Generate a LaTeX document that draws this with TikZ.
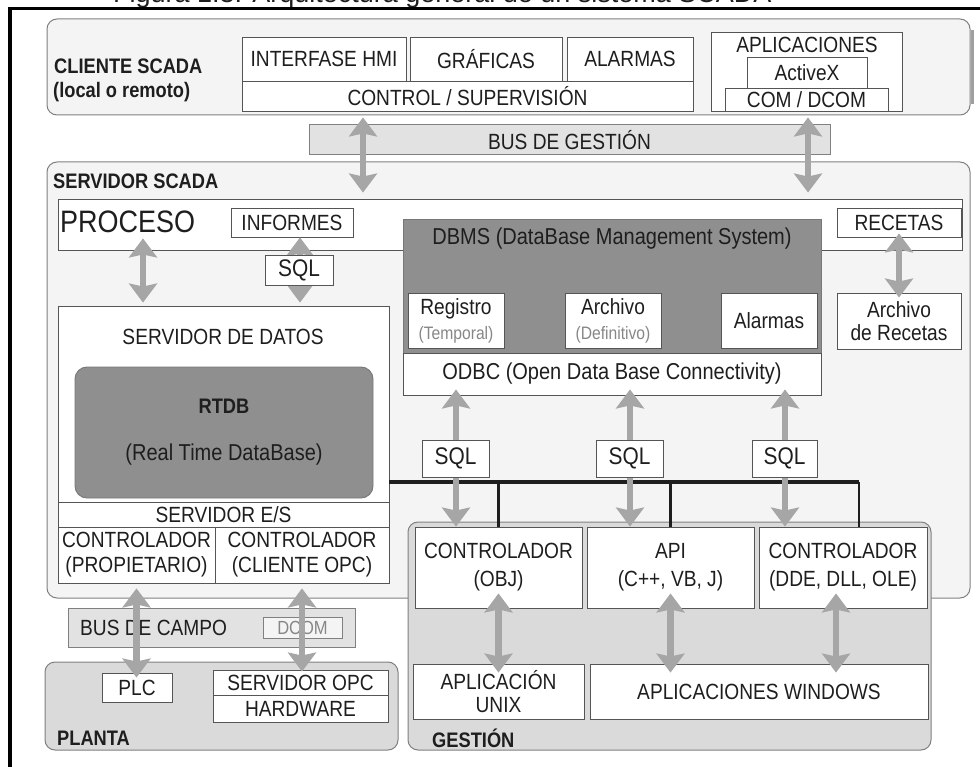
\documentclass[tikz,border=0pt]{standalone}
\usepackage{fontspec}
\setmainfont[FakeStretch=0.87]{Liberation Sans}
\newfontfamily\captionfont{Liberation Sans}
\usetikzlibrary{arrows.meta,calc,positioning}
\definecolor{PanelLight}{RGB}{244,244,244}
\definecolor{PanelDark}{RGB}{218,218,218}
\definecolor{BusGray}{RGB}{226,226,226}
\definecolor{DbGray}{RGB}{143,143,143}
\definecolor{EdgeGray}{RGB}{128,128,128}
\definecolor{BoxEdge}{RGB}{85,85,85}
\definecolor{ArrowGray}{RGB}{166,166,166}
\definecolor{InkBlack}{RGB}{30,30,30}
\definecolor{NoteGray}{RGB}{135,135,135}
\tikzset{
  cellbox/.style={draw=BoxEdge,fill=white,line width=0.9pt,align=center},
  dbbox/.style={cellbox,fill=DbGray,draw=BoxEdge!80},
  panel/.style={draw=EdgeGray,fill=PanelLight,line width=1pt,rounded corners=10pt},
  panelshade/.style={panel,fill=PanelDark},
  busbar/.style={draw=EdgeGray,fill=BusGray,line width=1pt},
  tag/.style={font=\bfseries\fontsize{21}{24}\selectfont,anchor=west},
  biarrow/.style={{Stealth[width=28pt,length=19pt,inset=3pt]}-{Stealth[width=28pt,length=19pt,inset=3pt]},
    line width=6.5pt,draw=ArrowGray},
  busline/.style={line width=4pt,draw=InkBlack},
}
% box given by its corners (in pixels of the reference)
\newcommand{\boxcell}[6][cellbox]{%
  \node[#1,minimum width={(#4-#2)*1pt},minimum height={(#5-#3)*1pt}] (#6) at ({(#2+#4)/2},{(#3+#5)/2})}

\begin{document}
\begin{tikzpicture}[x=1pt,y=-1pt,inner sep=0pt,text=InkBlack,font=\fontsize{22}{25}\selectfont]
  \useasboundingbox (0,0) rectangle (980,767);
  % caption, only its lowest strip is on the page
  \begin{scope}
    \clip (0,0) rectangle (980,8);
    \node[anchor=base west,font=\captionfont\fontsize{27}{30}\selectfont] (caption) at (113,2.5)
      {Figura 1.3: Arquitectura general de un sistema SCADA};
  \end{scope}
  \draw[line width=3.5pt] (10,767) -- (10,8.5) -- (980,8.5);

  % cliente scada
  \boxcell[panel]{47}{19}{970}{115}{cliente} {};
  \draw[line width=3pt,EdgeGray!75] (972,30) -- (972,104);
  \node[tag] (clientetag) at (54,66) {CLIENTE SCADA};
  \node[tag] (clientesub) at (53,92) {(local o remoto)};
  \boxcell{242}{37}{406}{81}{hmi} {INTERFASE HMI};
  \boxcell{410}{37}{562}{81}{graf} {GRÁFICAS};
  \boxcell{567}{37}{693}{81}{alarm} {ALARMAS};
  \boxcell{242}{81}{693}{111}{ctrl} {CONTROL / SUPERVISIÓN};
  \boxcell{711}{32}{902}{111}{apps} {};
  \node (appstag) at (807,45) {APLICACIONES};
  \boxcell{747}{57}{867}{88}{activex} {ActiveX};
  \boxcell{725}{88}{888}{111}{com} {COM / DCOM};

  \boxcell[busbar]{309}{125}{830}{155}{busgest} {BUS DE GESTIÓN};

  % servidor scada
  \boxcell[panel]{47}{162}{970}{598}{servidor} {};
  \node[tag] (servidortag) at (53,181) {SERVIDOR SCADA};
  \boxcell{58}{199}{962}{250}{proceso} {};
  \node[anchor=west,font=\fontsize{31}{34}\selectfont] (procesotag) at (60,222) {PROCESO};
  \boxcell{231}{208}{353}{237}{informes} {INFORMES};
  \boxcell{837}{208}{961}{237}{recetas} {RECETAS};
  \boxcell[dbbox]{403}{219}{821}{353}{dbms} {};
  \node[font=\fontsize{23}{26}\selectfont] (dbmstag) at (612,239) {DBMS (DataBase Management System)};
  \boxcell{408}{293}{504}{348}{registro} {Registro\\{\color{NoteGray}\fontsize{18}{20}\selectfont(Temporal)}};
  \boxcell{565}{293}{661}{348}{archivo} {Archivo\\{\color{NoteGray}\fontsize{18}{20}\selectfont(Definitivo)}};
  \boxcell{721}{293}{817}{348}{alarmas} {Alarmas};
  \boxcell[cellbox,font=\fontsize{23}{26}\selectfont]{403}{353}{821}{395}{odbc} {ODBC (Open Data Base Connectivity)};
  \boxcell[cellbox,font=\fontsize{22}{23}\selectfont]{837}{293}{961}{349}{archrec} {Archivo\\de Recetas};

  \boxcell{58}{306}{389}{502}{datos} {};
  \node (datostag) at (223,337) {SERVIDOR DE DATOS};
  \boxcell[dbbox,rounded corners=12pt]{75}{367}{373}{498}{rtdb} {};
  \node[font=\bfseries\fontsize{21}{24}\selectfont] (rtdbtag) at (224,406) {RTDB};
  \node[font=\fontsize{23}{26}\selectfont] (rtdbsub) at (224,455) {(Real Time DataBase)};
  \boxcell{58}{502}{389}{527}{es} {SERVIDOR E/S};
  \boxcell{58}{527}{215}{583}{ctrlprop} {CONTROLADOR\\(PROPIETARIO)};
  \boxcell{215}{527}{389}{583}{ctrlopc} {CONTROLADOR\\(CLIENTE OPC)};

  % gestion
  \boxcell[panelshade]{408}{522}{931}{750}{gestion} {};
  \node[tag] (gestiontag) at (432,738) {GESTIÓN};
  \boxcell[cellbox,font=\fontsize{22}{28}\selectfont]{415}{527}{582}{608}{obj} {CONTROLADOR\\(OBJ)};
  \boxcell[cellbox,font=\fontsize{22}{28}\selectfont]{587}{527}{754}{608}{api} {API\\(C++, VB, J)};
  \boxcell[cellbox,font=\fontsize{22}{28}\selectfont]{759}{527}{927}{608}{dde} {CONTROLADOR\\(DDE, DLL, OLE)};
  \boxcell[cellbox,font=\fontsize{22}{23}\selectfont]{413}{664}{584}{719}{unix} {APLICACIÓN\\UNIX};
  \boxcell{590}{664}{928}{719}{windows} {APLICACIONES WINDOWS};

  % bus de campo y planta
  \boxcell[busbar]{68}{608}{355}{647}{buscampo} {};
  \node[anchor=west] (buscampotag) at (80,628) {BUS DE CAMPO};
  \boxcell[cellbox,fill=PanelLight,draw=EdgeGray]{263}{617}{342}{638}{dcom} {\color{NoteGray}\fontsize{19}{21}\selectfont DCOM};
  \boxcell[panelshade]{45}{662}{398}{750}{planta} {};
  \node[tag] (plantatag) at (57,738) {PLANTA};
  \boxcell{102}{673}{172}{702}{plc} {PLC};
  \boxcell{213}{670}{388}{695}{opc} {SERVIDOR OPC};
  \boxcell{213}{695}{388}{722}{hw} {HARDWARE};

  % bus negro hacia gestion
  \coordinate (busy) at (0,482);
  \coordinate (drop) at ([xshift=16pt]dde.north);
  \draw[busline] (datos.east |- busy) -- (drop |- busy);
  \draw[busline,line width=2.5pt] (obj.north) -- (obj.north |- busy);
  \draw[busline,line width=2.5pt] (api.north) -- (api.north |- busy);
  \draw[busline,line width=2.5pt] (drop) -- (drop |- busy);

  % flechas
  \coordinate (gx1) at (363,0);
  \coordinate (gx2) at (808,0);
  \coordinate (px) at (143,0);
  \coordinate (ix) at (300,0);
  \coordinate (sx1) at (456,0);
  \coordinate (sx2) at (630,0);
  \coordinate (sx3) at (785,0);
  \coordinate (wx) at (836,0);
  \draw[biarrow,shorten <=6pt,shorten >=6pt] (ctrl.south -| gx1) -- (proceso.north -| gx1);
  \draw[biarrow,shorten <=6pt,shorten >=6pt] (com.south -| gx2) -- (proceso.north -| gx2);
  \draw[biarrow,shorten <=-12pt,shorten >=3pt] (proceso.south -| px) -- (datos.north -| px);
  \draw[biarrow,shorten >=3pt] (informes.south -| ix) -- (datos.north -| ix);
  \draw[biarrow,shorten <=-4pt,shorten >=-5pt] (recetas.south) -- (archrec.north);
  \draw[biarrow,shorten <=-6pt] (odbc.south -| sx1) -- (obj.north -| sx1);
  \draw[biarrow,shorten <=-6pt] (odbc.south -| sx2) -- (api.north -| sx2);
  \draw[biarrow,shorten <=-6pt] (odbc.south -| sx3) -- (dde.north -| sx3);
  \draw[biarrow,shorten <=-15pt,shorten >=-9pt] (obj.south) -- (unix.north -| obj.south);
  \draw[biarrow,shorten <=-15pt,shorten >=-9pt] (api.south) -- (windows.north -| api.south);
  \draw[biarrow,shorten <=-15pt,shorten >=-9pt] (dde.south -| wx) -- (windows.north -| wx);
  \draw[biarrow,shorten <=5pt,shorten >=-5pt] (ctrlprop.south) -- (plc.north -| ctrlprop.south);
  \draw[biarrow,shorten <=5pt,shorten >=-2pt] (ctrlopc.south) -- (opc.north -| ctrlopc.south);

  % etiquetas SQL
  \boxcell[cellbox,font=\fontsize{24}{26}\selectfont]{265}{255}{333}{285}{sqlinf} {SQL};
  \boxcell[cellbox,font=\fontsize{24}{26}\selectfont]{422}{440}{489}{477}{sqla} {SQL};
  \boxcell[cellbox,font=\fontsize{24}{26}\selectfont]{596}{440}{663}{477}{sqlb} {SQL};
  \boxcell[cellbox,font=\fontsize{24}{26}\selectfont]{752}{440}{817}{477}{sqlc} {SQL};
\end{tikzpicture}
\end{document}
